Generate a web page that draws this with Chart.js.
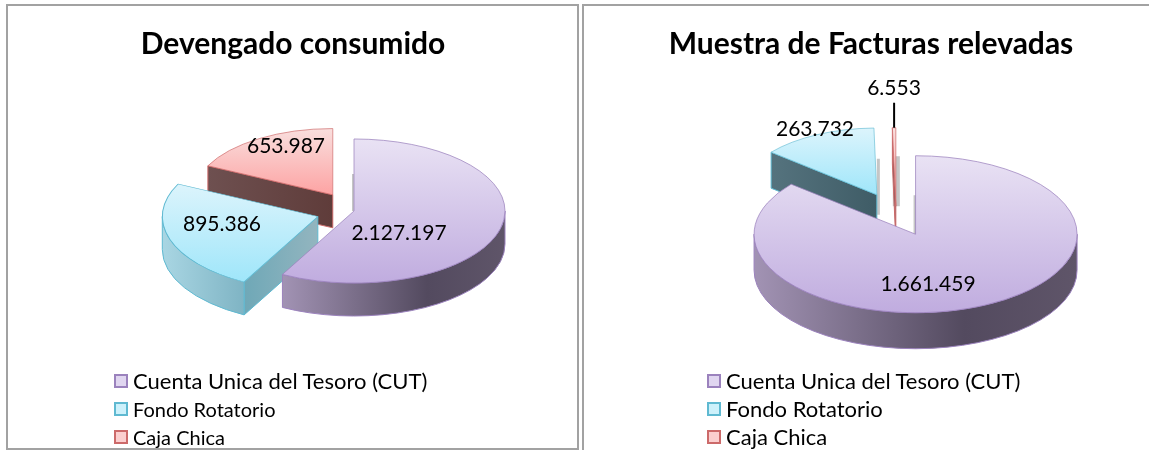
<!DOCTYPE html>
<html lang="es">
<head>
<meta charset="utf-8">
<title>Devengado consumido / Muestra de Facturas relevadas</title>
<script src="https://cdn.jsdelivr.net/npm/chart.js@4"></script>
<style>
  html, body { margin: 0; padding: 0; background: #fff; overflow: hidden; width: 1149px; height: 450px; }
  .frame { position: absolute; border: 2px solid #a2a2a2; box-sizing: border-box; }
  #frame1 { left: 6px; top: 4px; width: 573px; height: 446px; }
  #frame2 { left: 582px; top: 4px; width: 567px; height: 446px; border-right: 0; border-bottom: 0; }
  canvas { position: absolute; top: 6px; }
  #chart1 { left: 8px; }
  #chart2 { left: 584px; }
  .legend { position: absolute; top: 371px; font-family: Lato, sans-serif; color: #000; }
  #legend1 { left: 114px; }
  #legend2 { left: 707px; }
  .legend div { position: absolute; white-space: nowrap; left: 19px; height: 20px; line-height: 20px; }
  .legend i { position: absolute; left: -19px; top: 3px; width: 14px; height: 14px; box-sizing: border-box; border: 2px solid; }
</style>
</head>
<body>
<div class="frame" id="frame1"></div>
<div class="frame" id="frame2"></div>
<canvas id="chart1" width="570" height="444"></canvas>
<canvas id="chart2" width="574" height="444"></canvas>
<div class="legend" id="legend1"></div>
<div class="legend" id="legend2"></div>

<script>
// --- DATI ---
const categories = ['Cuenta Unica del Tesoro (CUT)', 'Fondo Rotatorio', 'Caja Chica'];
const devengadoValues = [2127197, 895386, 653987];
const muestraValues = [1661459, 263732, 6553];
const titles = ['Devengado consumido', 'Muestra de Facturas relevadas'];

// --- COLORI ---
const topColors = [['#e9e2f4', '#c0acdf'], ['#dcf4fc', '#9fe6fa'], ['#f9dfde', '#fda3a3']];
const edgeColors = ['#9b82bd', '#5fb9d1', '#cc6a6a'];
const wallColors = [
  [[0, '#a293b4'], [0.65, '#534a5f'], [1, '#5f5569']],
  [[0, '#a9d6e3'], [1, '#7fb4c4']],
  [[0, '#6e5050'], [1, '#5f3c3a']]
];
const legendFills = ['#e0d6f0', '#cdf1fb', '#fbcfcf'];

const formatValue = v => String(v).replace(/\B(?=(\d{3})+$)/g, '.');

// slice placement on the page, one entry per chart
const layouts = [
  {
    center: { x: 346, y: 205 }, radius: 151, squash: 0.477, depth: 33,
    explode: [0, 38, 40], shrink: [1, 1.03, 0.92],
    cutColors: [null, [[0, '#6fa8b7'], [1, '#93b5bf']], [[0, '#6e5050'], [1, '#5f3c3a']]],
    labelAt: [[391, 227], [214, 218], [278, 140]],
    strips: [{ index: 0, shift: -2, width: 3, above: 37, below: 0 }]
  },
  {
    center: { x: 312, y: 208 }, radius: 161.5, squash: 0.486, depth: 36,
    explode: [46, 44, 16], shrink: [1, 0.85, 1],
    cutColors: [null, [[0, '#55737e'], [1, '#3f5c66']], [[0, '#8a5a5a'], [1, '#8a5a5a']]],
    labelAt: [[344, 278], [231, 123], [310, 82]],
    leader: { index: 2, length: 25 },
    strips: [
      { index: 0, shift: -2, width: 3, above: 39, below: 0 },
      { index: 1, shift: 0, width: 3, above: 36, below: 20 },
      { index: 2, shift: -3, width: 7, above: 50, below: 0 }
    ]
  }
];

function linear(ctx, x0, y0, x1, y1, stops) {
  const g = ctx.createLinearGradient(x0, y0, x1, y1);
  stops.forEach(s => g.addColorStop(s[0], s[1]));
  return g;
}

// vertical extent of a sector, as fractions of the radius
function sectorBounds(a1, a2) {
  const ys = [0, Math.sin(a1), Math.sin(a2)];
  for (const a of [-Math.PI / 2, Math.PI / 2, 3 * Math.PI / 2]) {
    if (a > a1 && a < a2) ys.push(Math.sin(a));
  }
  return [Math.min(...ys), Math.max(...ys)];
}

function slicePlace(arc, i, L) {
  const mid = (arc.startAngle + arc.endAngle) / 2;
  return {
    x: L.center.x + Math.cos(mid) * L.explode[i],
    y: L.center.y + Math.sin(mid) * L.explode[i] * L.squash,
    r: arc.outerRadius * L.shrink[i]
  };
}

function drawSlice(ctx, arc, i, L) {
  const p = slicePlace(arc, i, L);
  const rx = p.r, ry = p.r * L.squash;
  const a1 = arc.startAngle, a2 = arc.endAngle;

  // faccia del taglio
  if (L.cutColors[i]) {
    const ex = p.x + Math.cos(a1) * rx, ey = p.y + Math.sin(a1) * ry;
    ctx.beginPath();
    ctx.moveTo(p.x, p.y);
    ctx.lineTo(ex, ey);
    ctx.lineTo(ex, ey + L.depth);
    ctx.lineTo(p.x, p.y + L.depth);
    ctx.closePath();
    ctx.fillStyle = linear(ctx, Math.min(ex, p.x), 0, Math.max(ex, p.x), 0, L.cutColors[i]);
    ctx.fill();
    ctx.strokeStyle = edgeColors[i];
    ctx.lineWidth = 1;
    ctx.stroke();
  }

  // bordo esterno, solo la parte davanti
  const from = Math.max(a1, 0), to = Math.min(a2, Math.PI);
  if (to > from) {
    const xa = p.x + Math.cos(to) * rx, xb = p.x + Math.cos(from) * rx;
    ctx.beginPath();
    ctx.ellipse(p.x, p.y, rx, ry, 0, from, to);
    ctx.ellipse(p.x, p.y + L.depth, rx, ry, 0, to, from, true);
    ctx.closePath();
    ctx.fillStyle = linear(ctx, xa, 0, xb, 0, wallColors[i]);
    ctx.fill();
    ctx.strokeStyle = edgeColors[i];
    ctx.lineWidth = 1;
    ctx.stroke();
  }

  // faccia superiore, disegnata dall'arco del grafico
  const bounds = sectorBounds(a1, a2);
  const fill = linear(ctx, 0, arc.y + bounds[0] * arc.outerRadius, 0, arc.y + bounds[1] * arc.outerRadius,
    [[0, topColors[i][0]], [1, topColors[i][1]]]);
  arc.options = Object.assign({}, arc.options, { backgroundColor: fill });
  ctx.save();
  ctx.translate(p.x, p.y);
  ctx.scale(L.shrink[i], L.squash * L.shrink[i]);
  ctx.translate(-arc.x, -arc.y);
  arc.draw(ctx);
  ctx.restore();
}

const pie3d = {
  id: 'pie3d',
  beforeDatasetDraw(chart, args, opts) {
    const ctx = chart.ctx, L = opts.layout, arcs = args.meta.data;
    // ombre grigie dietro gli spigoli
    ctx.fillStyle = 'rgba(90, 90, 90, 0.35)';
    L.strips.forEach(s => {
      const p = slicePlace(arcs[s.index], s.index, L);
      ctx.fillRect(p.x + s.shift, p.y - s.above, s.width, s.above + s.below);
    });
    for (let i = arcs.length - 1; i >= 0; i--) drawSlice(ctx, arcs[i], i, L);
    return false;
  },
  afterDatasetsDraw(chart, args, opts) {
    const ctx = chart.ctx, L = opts.layout;
    const arcs = chart.getDatasetMeta(0).data;
    if (L.leader) {
      const arc = arcs[L.leader.index];
      const p = slicePlace(arc, L.leader.index, L);
      const mid = (arc.startAngle + arc.endAngle) / 2;
      const x = p.x + Math.cos(mid) * p.r, y = p.y + Math.sin(mid) * p.r * L.squash;
      ctx.beginPath();
      ctx.moveTo(x, y);
      ctx.lineTo(x, y - L.leader.length);
      ctx.strokeStyle = '#000';
      ctx.lineWidth = 2;
      ctx.stroke();
    }
    ctx.font = '21px Lato, sans-serif';
    ctx.fillStyle = '#000';
    ctx.textAlign = 'center';
    ctx.textBaseline = 'middle';
    chart.data.datasets[0].data.forEach((v, i) => {
      ctx.fillText(formatValue(v), L.labelAt[i][0], L.labelAt[i][1]);
    });
  }
};

function makeChart(id, title, values, L) {
  return new Chart(document.getElementById(id), {
    type: 'pie',
    data: {
      labels: categories,
      datasets: [{
        data: values,
        backgroundColor: topColors.map(c => c[1]),
        borderColor: edgeColors,
        borderWidth: 1
      }]
    },
    options: {
      responsive: false,
      animation: false,
      radius: L.radius,
      plugins: {
        legend: { display: false },
        tooltip: { enabled: false },
        title: {
          display: true,
          text: title,
          color: '#000',
          font: { family: 'Lato, sans-serif', size: 30, weight: 'bold', lineHeight: 1.2 },
          padding: { top: 20, bottom: 10 }
        },
        pie3d: { layout: L }
      }
    },
    plugins: [pie3d]
  });
}

function makeLegend(id, sizes) {
  const box = document.getElementById(id);
  categories.forEach((name, i) => {
    const row = document.createElement('div');
    row.style.top = [0, 28, 56][i] + 'px';
    row.style.fontSize = sizes[i] + 'px';
    const mark = document.createElement('i');
    mark.style.borderColor = edgeColors[i];
    mark.style.background = legendFills[i];
    row.appendChild(mark);
    row.appendChild(document.createTextNode(name));
    box.appendChild(row);
  });
}

makeChart('chart1', titles[0], devengadoValues, layouts[0]);
makeChart('chart2', titles[1], muestraValues, layouts[1]);
makeLegend('legend1', [22, 20, 20]);
makeLegend('legend2', [22, 22, 22]);
</script>
</body>
</html>
